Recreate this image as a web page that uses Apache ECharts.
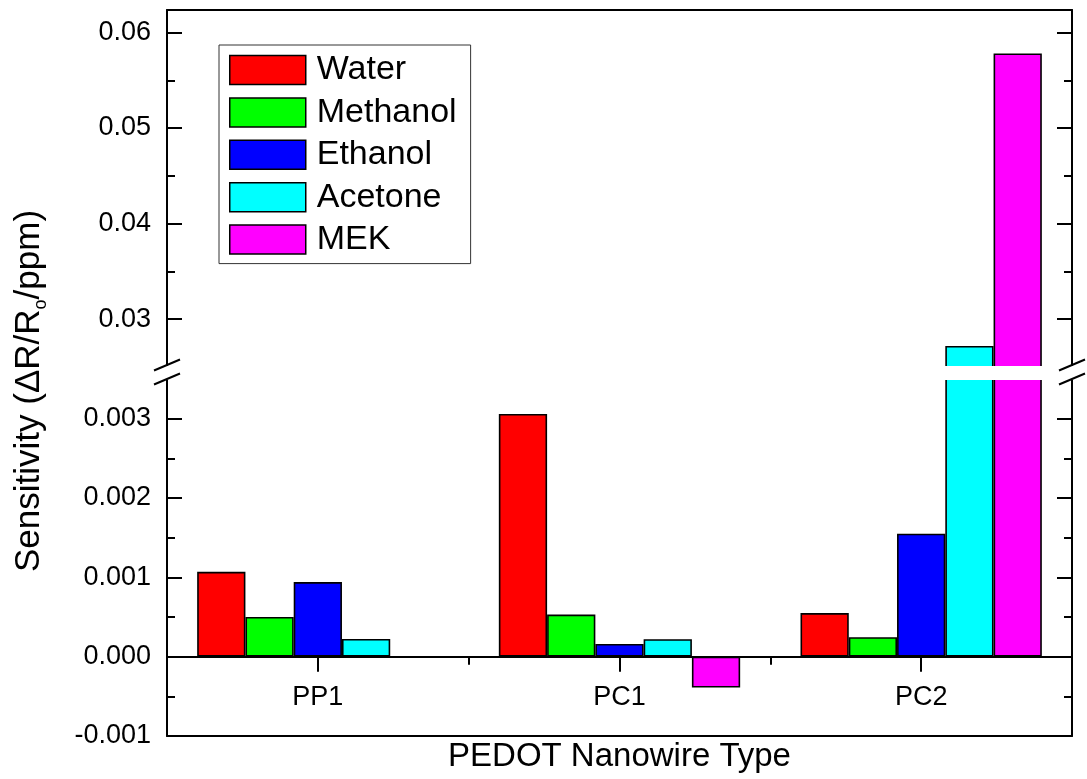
<!DOCTYPE html>
<html>
<head>
<meta charset="utf-8">
<script src="https://cdn.jsdelivr.net/npm/echarts@6/dist/echarts.min.js"></script>
<style>
  html, body { margin: 0; padding: 0; background: #ffffff; }
  #chart { width: 1087px; height: 779px; }
</style>
</head>
<body>
<div id="chart"></div>
<script>
// Sensor response of PEDOT nanowires to solvent vapours
const categories = ['PP1', 'PC1', 'PC2'];
const solvents = ['Water', 'Methanol', 'Ethanol', 'Acetone', 'MEK'];

const water    = [0.00107, 0.00306, 0.00055];
const methanol = [0.00050, 0.00053, 0.000245];
const ethanol  = [0.00094, 0.00016, 0.00155];
const acetone  = [0.000223, 0.00022, 0.0272];
const mek      = [null, -0.00039, 0.0578];

// broken value axis: upper and lower segments
const upperRange = [0.025, 0.06235];
const lowerRange = [-0.001, 0.0035];
const upperMajor = [0.03, 0.04, 0.05, 0.06];
const upperMinor = [0.035, 0.045, 0.055];
const lowerMajor = [-0.001, 0, 0.001, 0.002, 0.003];
const lowerMinor = [-0.0005, 0.0005, 0.0015, 0.0025];

const values = [water, methanol, ethanol, acetone, mek];
const colors = ['#ff0000', '#00ff00', '#0000ff', '#00ffff', '#ff00ff'];

const FONT = "'Liberation Sans', Arial, sans-serif";
const LEFT = 167, RIGHT = 15;
const UP_TOP = 10, UP_H = 357;
const LO_TOP = 379, LO_H = 357;
const W = 1087;
const AXIS_R = W - RIGHT;

// distance of the zero line above the bottom of the lower segment
const zeroLift = LO_H * (0 - lowerRange[0]) / (lowerRange[1] - lowerRange[0]);

const lineStyle = { color: '#000', width: 2 };

function yAxisDef(grid, range, pos, ticks, len, withLine, labelDigits) {
  return {
    type: 'value', gridIndex: grid, position: pos,
    min: range[0], max: range[1],
    axisLine: { show: withLine, onZero: false, lineStyle: lineStyle },
    axisTick: { show: true, inside: true, length: len, customValues: ticks, lineStyle: { color: '#000', width: 2 } },
    axisLabel: labelDigits != null ? {
      show: true, customValues: ticks, margin: 16, color: '#000', fontSize: 27, fontFamily: FONT,
      formatter: v => Number(v).toFixed(labelDigits)
    } : { show: false },
    splitLine: { show: false }
  };
}

const yAxes = [
  yAxisDef(0, upperRange, 'left', upperMajor, 15, true, 2),
  yAxisDef(0, upperRange, 'left', upperMinor, 8, false, null),
  yAxisDef(0, upperRange, 'right', upperMajor, 15, true, null),
  yAxisDef(0, upperRange, 'right', upperMinor, 8, false, null),
  yAxisDef(1, lowerRange, 'left', lowerMajor, 15, true, 3),
  yAxisDef(1, lowerRange, 'left', lowerMinor, 8, false, null),
  yAxisDef(1, lowerRange, 'right', lowerMajor, 15, true, null),
  yAxisDef(1, lowerRange, 'right', lowerMinor, 8, false, null)
];

const xAxes = [
  { // top frame
    type: 'category', gridIndex: 0, position: 'top', data: categories,
    axisLine: { show: true, onZero: false, lineStyle: lineStyle },
    axisTick: { show: false }, axisLabel: { show: false }, splitLine: { show: false }
  },
  { // zero line with category labels
    type: 'category', gridIndex: 1, position: 'bottom', data: categories,
    offset: -zeroLift,
    axisLine: { show: true, onZero: false, lineStyle: lineStyle },
    axisTick: { show: true, inside: false, alignWithLabel: true, length: 15, lineStyle: { color: '#000', width: 2 } },
    axisLabel: { show: true, margin: 27, color: '#000', fontSize: 27, fontFamily: FONT },
    splitLine: { show: false }
  },
  { // boundary ticks on zero line
    type: 'category', gridIndex: 1, position: 'bottom', data: categories,
    offset: -zeroLift,
    axisLine: { show: false, onZero: false },
    axisTick: { show: true, inside: false, alignWithLabel: false, length: 8, lineStyle: { color: '#000', width: 2 } },
    axisLabel: { show: false }, splitLine: { show: false }
  },
  { // bottom frame
    type: 'category', gridIndex: 1, position: 'bottom', data: categories,
    axisLine: { show: true, onZero: false, lineStyle: lineStyle },
    axisTick: { show: false }, axisLabel: { show: false }, splitLine: { show: false },
    name: 'PEDOT Nanowire Type', nameLocation: 'middle', nameGap: 4,
    nameTextStyle: { color: '#000', fontSize: 33, fontFamily: FONT }
  }
];

const series = [];
solvents.forEach((name, i) => {
  [0, 1].forEach(part => {
    series.push({
      type: 'bar', name: name, data: values[i],
      xAxisIndex: part === 0 ? 0 : 1,
      yAxisIndex: part === 0 ? 0 : 4,
      barGap: '0%', barCategoryGap: '20%',
      clip: true,
      itemStyle: { color: colors[i], borderColor: '#000', borderWidth: 1.6 },
      emphasis: { disabled: true }
    });
  });
});

// axis break: white band and slash marks on both vertical axes
const breakTop = UP_TOP + UP_H, breakBottom = LO_TOP;
function slash(x, y) {
  return {
    type: 'line', z: 60,
    shape: { x1: x - 13, y1: y + 5.5, x2: x + 13, y2: y - 5.5 },
    style: { stroke: '#000', lineWidth: 2 }
  };
}
const graphics = [
  {
    type: 'rect', z: 50,
    shape: { x: 150, y: breakTop - 1, width: W - 150, height: breakBottom - breakTop + 2 },
    style: { fill: '#fff' }
  },
  slash(LEFT, breakTop - 2), slash(LEFT, breakBottom),
  slash(AXIS_R, breakTop - 2), slash(AXIS_R, breakBottom),
  {
    type: 'text', z: 60, x: 29, y: 391, rotation: Math.PI / 2,
    style: {
      text: 'Sensitivity (ΔR/R{sub|o}/ppm)',
      fill: '#000', fontSize: 35, fontFamily: FONT,
      align: 'center', verticalAlign: 'middle',
      rich: {
        sub: { fontSize: 18, fontFamily: FONT, fill: '#000', lineHeight: 35, padding: [24, 0, 0, 0] }
      }
    }
  }
];

const chart = echarts.init(document.getElementById('chart'), null, { renderer: 'canvas' });
chart.setOption({
  animation: false,
  backgroundColor: '#ffffff',
  textStyle: { fontFamily: FONT, color: '#000' },
  grid: [
    { left: LEFT, right: RIGHT, top: UP_TOP, height: UP_H, containLabel: false, outerBoundsMode: 'none' },
    { left: LEFT, right: RIGHT, top: LO_TOP, height: LO_H, containLabel: false, outerBoundsMode: 'none' }
  ],
  legend: {
    data: solvents, orient: 'vertical', left: 219, top: 45,
    padding: [8, 14, 7, 10],
    itemWidth: 76, itemHeight: 29, itemGap: 8.4,
    backgroundColor: '#fff', borderColor: '#333', borderWidth: 1,
    selectedMode: false,
    icon: 'rect',
    itemStyle: { borderColor: '#000', borderWidth: 1.5 },
    textStyle: { color: '#000', fontSize: 34, fontFamily: FONT, padding: [0, 0, 0, 6] }
  },
  xAxis: xAxes,
  yAxis: yAxes,
  series: series,
  graphic: graphics
});
</script>
</body>
</html>
